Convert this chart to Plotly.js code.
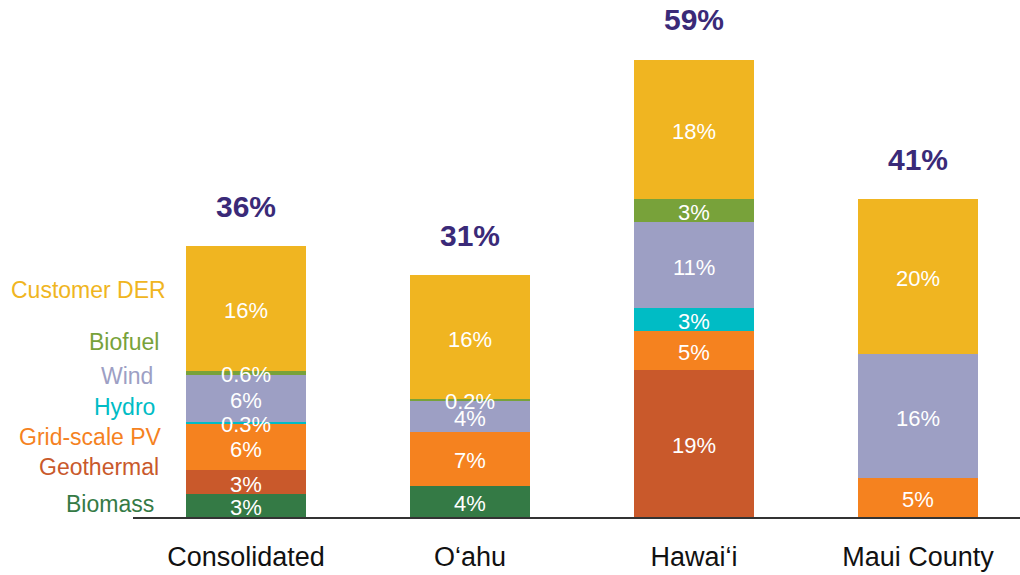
<!DOCTYPE html>
<html>
<head>
<meta charset="utf-8">
<script src="https://cdn.plot.ly/plotly-3.0.1.min.js"></script>
<style>
  html, body { margin: 0; padding: 0; background: #ffffff; }
  #chart { width: 1020px; height: 575px; }
</style>
</head>
<body>
<div id="chart"></div>
<script>
// ---- data (percent of generation) ----
const categories = ["Consolidated", "O\u2018ahu", "Hawai\u2018i", "Maui County"];
const totalLabels = ["36%", "31%", "59%", "41%"];

const biomass    = [3,   4,   0,  0];
const geothermal = [3,   0,   19, 0];
const gridPV     = [6,   7,   5,  5];
const hydro      = [0.3, 0,   3,  0];
const wind       = [6,   4,   11, 16];
const biofuel    = [0.6, 0.2, 3,  0];
const customerDER= [16,  16,  18, 20];

const seriesNames = ["Biomass", "Geothermal", "Grid-scale PV", "Hydro", "Wind", "Biofuel", "Customer DER"];
const seriesData  = [biomass, geothermal, gridPV, hydro, wind, biofuel, customerDER];

// ---- styles ----
const colors = ["#347a45", "#c9592b", "#f5821f", "#00bcc5", "#9d9fc4", "#78a23a", "#f0b521"];
// legend label placement (x in category units, y in %)
const legendX = [-0.402, -0.379, -0.366, -0.397, -0.406, -0.379, -0.348];
const legendY = [1.7, 6.45, 10.3, 14.2, 18.2, 22.6, 29.3];
const FONT = "Liberation Sans, Arial, sans-serif";

const traces = seriesData.map((vals, i) => ({
  type: "bar",
  name: seriesNames[i],
  x: categories,
  y: vals,
  width: 0.536,
  marker: { color: colors[i], line: { width: 0 } },
  hoverinfo: "skip"
}));

const annotations = [];

// segment labels drawn on top of all bars, centred in each segment
categories.forEach((c, j) => {
  let base = 0;
  seriesData.forEach(arr => {
    const v = arr[j];
    if (v > 0) {
      annotations.push({
        x: c, y: base + v / 2, xref: "x", yref: "y",
        text: v + "%", showarrow: false, yanchor: "middle", yshift: -2,
        font: { family: FONT, size: 22, color: "#ffffff" }
      });
    }
    base += v;
  });
});

const totals = categories.map((c, j) => seriesData.reduce((s, arr) => s + arr[j], 0));

categories.forEach((c, j) => {
  annotations.push({
    x: c, y: totals[j], xref: "x", yref: "y",
    text: "<b>" + totalLabels[j] + "</b>",
    showarrow: false, yanchor: "middle", yshift: 40,
    font: { family: FONT, size: 30, color: "#3a2a78" }
  });
});
seriesNames.forEach((n, i) => {
  annotations.push({
    x: legendX[i], y: legendY[i], xref: "x", yref: "y",
    text: n, showarrow: false, xanchor: "right", yanchor: "middle",
    font: { family: FONT, size: 23, color: colors[i] }
  });
});

const layout = {
  width: 1020, height: 575,
  margin: { l: 133, r: 0, t: 0, b: 58, pad: 0 },
  paper_bgcolor: "#ffffff", plot_bgcolor: "#ffffff",
  barmode: "stack",
  bargap: 0,
  showlegend: false,
  xaxis: {
    type: "category",
    range: [-0.5045, 3.455],
    showline: true, linecolor: "#333333", linewidth: 1.5,
    ticks: "", showgrid: false, zeroline: false,
    ticklabelstandoff: 15,
    tickfont: { family: FONT, size: 27, color: "#111111" },
    fixedrange: true
  },
  yaxis: {
    range: [0, 66.7],
    visible: false, showgrid: false, zeroline: false, fixedrange: true
  },
  annotations: annotations
};

Plotly.newPlot("chart", traces, layout, { displayModeBar: false, staticPlot: true });
</script>
</body>
</html>
